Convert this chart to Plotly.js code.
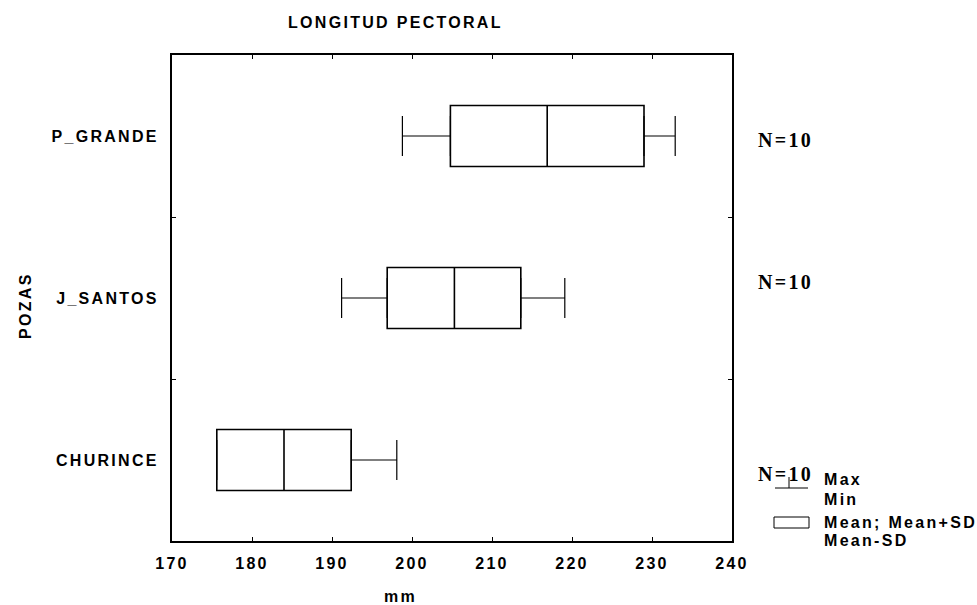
<!DOCTYPE html>
<html><head><meta charset="utf-8">
<script src="https://cdn.plot.ly/plotly-3.0.1.min.js"></script>
<style>
html,body{margin:0;padding:0;background:#fff;}
#chart{width:977px;height:605px;}
svg text{letter-spacing:2.3px;}
</style></head><body><div id="chart"></div>
<script>
// Data
const categories = ['CHURINCE', 'J_SANTOS', 'P_GRANDE'];
const meanVals = [184.0, 205.3, 216.9];
const meanMinusSD = [175.6, 196.9, 204.8];
const meanPlusSD = [192.4, 213.6, 229.0];
const minVals = [175.6, 191.2, 198.8];
const maxVals = [198.1, 219.1, 232.9];
const nLabels = ['N=10', 'N=10', 'N=10'];
const xTicks = [170, 180, 190, 200, 210, 220, 230, 240];
const legendTexts = ['Max', 'Min', 'Mean; Mean+SD', 'Mean-SD'];

// Layout geometry (pixels)
const W = 977, H = 605;
const L = 172, R = 732, T = 55, B = 541;
const px = x => (x - L) / (R - L);
const py = y => (B - y) / (B - T);

const sans = {family: 'Liberation Sans, Arial, sans-serif', size: 16, color: '#000', weight: 'bold'};
const serif = {family: 'Liberation Serif, Times New Roman, serif', size: 20, color: '#000', weight: 'bold'};

const boxTrace = {
  type: 'box', orientation: 'h', y: categories,
  q1: meanMinusSD, median: meanVals, q3: meanPlusSD,
  lowerfence: meanMinusSD, upperfence: meanPlusSD,
  width: 0.377, fillcolor: '#fff', line: {color: '#000', width: 1.6},
  boxpoints: false, hoverinfo: 'skip', showlegend: false
};
const zeros = categories.map(() => 0);
const upperWhisker = {
  type: 'scatter', mode: 'markers', x: meanPlusSD, y: categories,
  marker: {size: 2, color: 'rgba(0,0,0,0)'}, showlegend: false, hoverinfo: 'skip',
  error_x: {type: 'data', symmetric: false, array: maxVals.map((v, i) => v - meanPlusSD[i]),
    arrayminus: zeros, width: 20, thickness: 1.2, color: '#000'}
};
const lowerWhisker = {
  type: 'scatter', mode: 'markers', x: meanMinusSD, y: categories,
  marker: {size: 2, color: 'rgba(0,0,0,0)'}, showlegend: false, hoverinfo: 'skip',
  error_x: {type: 'data', symmetric: false, array: zeros,
    arrayminus: meanMinusSD.map((v, i) => v - minVals[i]), width: 20, thickness: 1.2, color: '#000'}
};

const nShifts = [-14, 16, -4];
const annotations = [];
categories.forEach((c, i) => {
  annotations.push({text: nLabels[i], xref: 'paper', x: px(756), xanchor: 'left',
    yref: 'y', y: c, yanchor: 'middle', yshift: nShifts[i], showarrow: false, font: serif});
});
annotations.push({text: 'mm', xref: 'paper', x: px(382), xanchor: 'left', yref: 'paper', y: py(596), yanchor: 'middle', showarrow: false, font: sans});
annotations.push({text: 'POZAS', xref: 'paper', x: px(25), xanchor: 'center', yref: 'paper', y: py(306), yanchor: 'middle', textangle: -90, showarrow: false, font: sans});
const legY = [479, 499, 522, 540];
legendTexts.forEach((t, i) => {
  annotations.push({text: t, xref: 'paper', x: px(822), xanchor: 'left', yref: 'paper', y: py(legY[i]), yanchor: 'middle', showarrow: false, font: sans});
});

const shapes = [
  {type: 'rect', xref: 'paper', yref: 'paper', x0: px(774), x1: px(809), y0: py(517), y1: py(528), line: {color: '#000', width: 1}, fillcolor: 'rgba(0,0,0,0)'},
  {type: 'line', xref: 'paper', yref: 'paper', x0: px(775), x1: px(808), y0: py(488), y1: py(488), line: {color: '#000', width: 1}},
  {type: 'line', xref: 'paper', yref: 'paper', x0: px(789), x1: px(789), y0: py(477), y1: py(488), line: {color: '#000', width: 1}}
];

const layout = {
  width: W, height: H,
  margin: {l: L, r: W - R, t: T, b: H - B, pad: 0},
  paper_bgcolor: '#fff', plot_bgcolor: '#fff',
  showlegend: false,
  title: {text: 'LONGITUD PECTORAL', font: sans, xref: 'container', x: 288 / W, xanchor: 'left',
    yref: 'container', y: 1 - 22 / H, yanchor: 'middle'},
  xaxis: {range: [170, 240], tickmode: 'array', tickvals: xTicks, ticktext: xTicks.map(String),
    ticks: 'inside', ticklen: 4, tickcolor: '#000', tickwidth: 1, mirror: 'ticks',
    showline: true, linecolor: '#000', linewidth: 2, showgrid: false, zeroline: false,
    tickfont: sans, ticklabelstandoff: 7},
  yaxis: {type: 'category', categoryorder: 'array', categoryarray: categories, range: [-0.5, 2.5],
    tickson: 'boundaries', ticks: 'inside', ticklen: 4, tickcolor: '#000', tickwidth: 1, mirror: 'ticks',
    showline: true, linecolor: '#000', linewidth: 2, showgrid: false, zeroline: false,
    tickfont: sans, ticklabelstandoff: 8},
  annotations: annotations,
  shapes: shapes
};

Plotly.newPlot('chart', [boxTrace, lowerWhisker, upperWhisker], layout, {staticPlot: true, displayModeBar: false});
</script></body></html>
